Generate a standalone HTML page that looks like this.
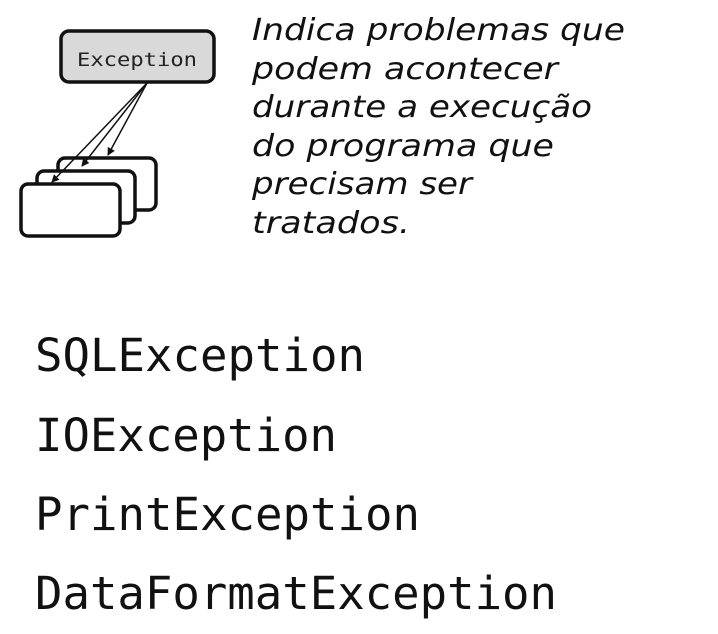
<!DOCTYPE html>
<html><head><meta charset="utf-8"><style>
html,body{margin:0;padding:0;background:#fff;width:718px;height:634px;overflow:hidden}
</style></head><body>
<svg width="718" height="634" viewBox="0 0 718 634" xmlns="http://www.w3.org/2000/svg">
<defs><marker id="a" markerWidth="8" markerHeight="8" refX="7" refY="4" orient="auto" markerUnits="userSpaceOnUse"><path d="M0,0 L8,4 L0,8 Z" fill="#111"/></marker></defs>
<rect x="61" y="31" width="153" height="51" rx="8" fill="#d9d9d9" stroke="#111" stroke-width="3.5"/>
<text x="137" y="66" text-anchor="middle" font-family="DejaVu Sans Mono, monospace" font-size="19" fill="#222" textLength="120" lengthAdjust="spacingAndGlyphs">Exception</text>
<rect x="58" y="158" width="98" height="52" rx="7" fill="#fff" stroke="#111" stroke-width="3.5"/>
<rect x="37" y="171" width="98" height="52" rx="7" fill="#fff" stroke="#111" stroke-width="3.5"/>
<rect x="21" y="184" width="99" height="52" rx="7" fill="#fff" stroke="#111" stroke-width="3.5"/>
<g stroke="#111" stroke-width="1.5" fill="none">
<line x1="147" y1="83" x2="108" y2="155" marker-end="url(#a)"/>
<line x1="147" y1="83" x2="82" y2="166" marker-end="url(#a)"/>
<line x1="147" y1="83" x2="52" y2="182" marker-end="url(#a)"/>
</g>
<g font-family="DejaVu Sans, sans-serif" font-style="italic" font-size="30" fill="#111">
<text x="252" y="40" textLength="373" lengthAdjust="spacingAndGlyphs">Indica problemas que</text>
<text x="252" y="79" textLength="306" lengthAdjust="spacingAndGlyphs">podem acontecer</text>
<text x="252" y="117" textLength="340" lengthAdjust="spacingAndGlyphs">durante a execução</text>
<text x="252" y="156" textLength="302" lengthAdjust="spacingAndGlyphs">do programa que</text>
<text x="252" y="194" textLength="220" lengthAdjust="spacingAndGlyphs">precisam ser</text>
<text x="252" y="233" textLength="158" lengthAdjust="spacingAndGlyphs">tratados.</text>
</g>
<g font-family="DejaVu Sans Mono, monospace" font-size="45" fill="#111">
<text x="35" y="371" textLength="330" lengthAdjust="spacingAndGlyphs">SQLException</text>
<text x="35" y="451" textLength="302" lengthAdjust="spacingAndGlyphs">IOException</text>
<text x="35" y="530" textLength="385" lengthAdjust="spacingAndGlyphs">PrintException</text>
<text x="35" y="609" textLength="522" lengthAdjust="spacingAndGlyphs">DataFormatException</text>
</g>
</svg>
</body></html>
